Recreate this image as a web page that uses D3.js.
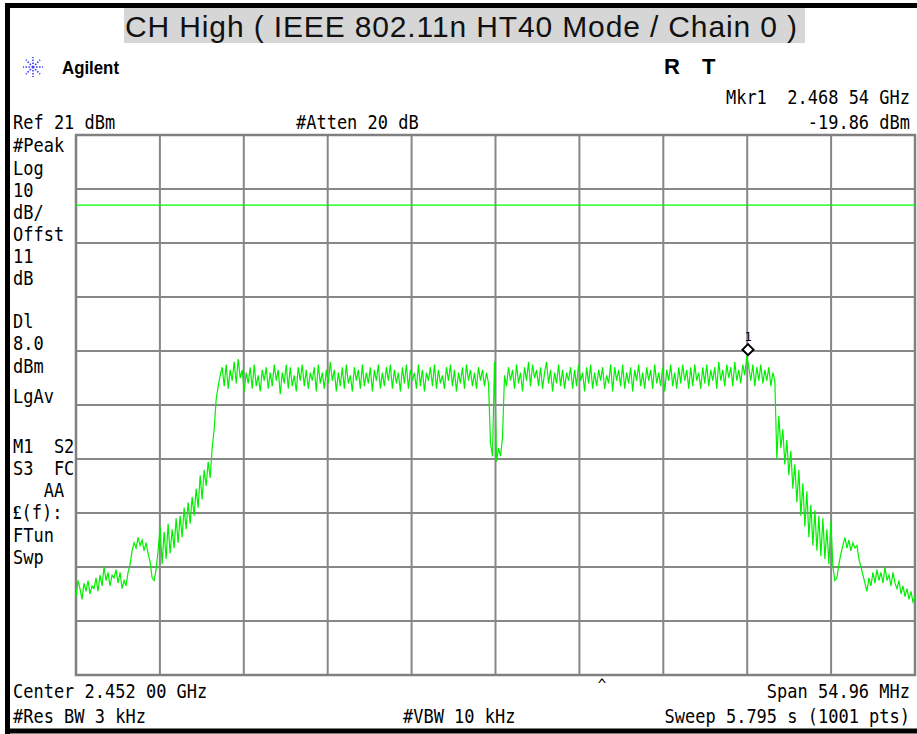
<!DOCTYPE html>
<html>
<head>
<meta charset="utf-8">
<script src="https://cdn.jsdelivr.net/npm/d3@7"></script>
<style>
  body { margin: 0; background: #fff; }
  svg text { white-space: pre; }
</style>
</head>
<body>
<div id="divChart"></div>
<script>
// analyzer settings
var titleText = 'CH High ( IEEE 802.11n HT40 Mode / Chain 0 )'
var centerGHz = 2.452
var spanMHz = 54.96
var refLevel = 21
var dbPerDiv = 10
var displayLine = 8.0
var markerFreq = [2.46854]
var markerDbm = [-19.86]

// trace amplitude in dBm, left to right across the span (evenly spaced)
var traceDbm = [
  // low skirt
  -64.5, -61.5, -63, -65, -62, -63.5, -61.5, -64, -62.5, -63,
  -61, -63.5, -60.5, -62.5, -59, -61.5, -60, -62.5, -60.5, -61,
  -59.5, -62, -60, -63, -61.5, -62.5, -60,
  -58.5, -56, -54.5, -55.5, -53.5, -55, -54, -56, -54.5, -56.5,
  -58, -61, -61.5, -59.5,
  // rising edge
  -56, -51.5, -58.5, -52.5, -57.5, -51, -56.5, -52, -55.5, -50,
  -54.5, -49.5, -53.5, -48, -52, -47, -51, -46, -49.5, -44.5,
  -48, -42, -46.5, -41, -44, -39.5, -42.5, -37, -33.5,
  -28, -25.5, -23.5,
  // channel, lower half
  -22, -25.5, -21.5, -26, -22.5, -24.5, -21, -25, -20.5, -24,
  -22.5, -26.5, -23, -25, -22, -26, -21.5, -25.5, -23.5, -26.5,
  -22.5, -24.5, -22, -26, -23, -25.5, -21.5, -24.5, -22.5, -27,
  -23, -25, -21.5, -26, -22, -25.5, -23.5, -26.5, -22, -24.5,
  -21.5, -25.5, -22.5, -26, -23, -24.5, -22, -26.5, -21.5, -25,
  -23, -26, -22.5, -25, -21, -24.5, -22.5, -26.5, -23, -25.5,
  -22, -26, -21.5, -25, -23.5, -26.5, -22, -24.5, -22.5, -26,
  -21.5, -25.5, -23, -25, -22, -26.5, -22.5, -24.5, -21.5, -26,
  -23, -25.5, -22, -24.5, -21.5, -26, -22.5, -25, -23, -26.5,
  -22, -25, -21.5, -26, -22.5, -24.5, -23, -26, -21.5, -25.5,
  -22.5, -26.5, -23, -24.5, -22, -25.5, -21.5, -26, -22.5, -25,
  -23.5, -26, -22, -24.5, -21.5, -25.5, -22.5, -26.5, -23, -25,
  -22, -26, -21.5, -24.5, -22.5, -25.5, -23, -26, -22, -24.5,
  -22.5, -25.5, -23,
  // centre notch
  -25, -36, -38.5, -21, -39.5, -37, -38.5, -35, -23.5,
  // channel, upper half
  -25.5, -22, -24.5, -22.5, -26, -21.5, -25, -23, -26.5, -22,
  -24.5, -21, -25.5, -21.5, -24, -22.5, -25.5, -22, -26, -23,
  -21, -25, -22.5, -26.5, -23, -25, -21.5, -25.5, -22.5, -26,
  -23, -24.5, -22, -26, -22.5, -25.5, -21.5, -24.5, -23, -26.5,
  -22, -25, -21.5, -26, -23, -25.5, -22.5, -24.5, -22, -26,
  -23.5, -25, -21.5, -26.5, -22, -24.5, -22.5, -25.5, -21.5, -26,
  -23, -25, -22, -26.5, -22.5, -24.5, -21.5, -25.5, -23, -26,
  -22, -24.5, -22.5, -26, -21.5, -25, -23, -25.5, -22, -26.5,
  -22.5, -24.5, -21.5, -25.5, -23, -26, -22, -25, -21.5, -24.5,
  -22.5, -26, -22, -25.5, -21.5, -24.5, -23, -26, -22, -25,
  -21.5, -25.5, -22.5, -24.5, -22, -26, -21, -24.5, -22.5, -25.5,
  -21.5, -24, -22, -25.5, -21, -24.5, -22.5, -25, -21.5, -23.5,
  -19.9, -22, -24.5, -21.5, -25.5, -22, -24.5, -21.5, -25, -22.5,
  -24.5, -22, -25.5, -23,
  // falling edge
  -24.5, -39, -31, -37, -33.5, -40, -35.5, -42, -37.5, -44.5,
  -40, -47, -41, -49.5, -43.5, -51.5, -45, -53.5, -47.5, -55,
  -48.5, -56, -49.5, -57, -50, -57.5, -52, -58.5, -50.5, -59,
  -61.5,
  // high skirt
  -61, -58.5, -56.5, -55, -53.5, -55.5, -54, -56, -54.5, -55.5,
  -55, -57.5, -59, -60.5, -62, -63.5, -61, -62.5, -60, -62,
  -59.5, -61.5, -60, -62, -59, -61.5, -60.5, -62.5, -60, -62,
  -63, -61.5, -64, -62.5, -64.5, -63, -65, -63.5, -65.5, -64.5
]

// annotation texts of the analyzer screen
var leftLabels = ['#Peak', 'Log', '10', 'dB/', 'Offst', '11', 'dB', 'Dl', '8.0', 'dBm', 'LgAv',
  'M1  S2', 'S3  FC', '   AA', '(f):', 'FTun', 'Swp']
var leftLabelY = [152, 175, 197, 219, 241, 263, 285, 328, 350, 373, 403, 453, 475, 497, 519, 542, 564]
var headerLeft = ['Ref 21 dBm', '#Atten 20 dB']
var headerRight = ['Mkr1  2.468 54 GHz', '-19.86 dBm']
var footerLeft = ['Center 2.452 00 GHz', '#Res BW 3 kHz', '#VBW 10 kHz']
var footerRight = ['Span 54.96 MHz', 'Sweep 5.795 s (1001 pts)']

var chart = {}

function initChart () {
  chart.width = 917
  chart.height = 734
  chart.left = 76
  chart.right = 915
  chart.top = 135
  chart.bottom = 675
  chart.font = "'DejaVu Sans Mono', 'Liberation Mono', monospace"

  chart.fStart = centerGHz - spanMHz / 2000
  chart.fStop = centerGHz + spanMHz / 2000
  chart.xScale = d3.scaleLinear().domain([chart.fStart, chart.fStop]).range([chart.left, chart.right])
  chart.yScale = d3.scaleLinear().domain([refLevel - 10 * dbPerDiv, refLevel]).range([chart.bottom, chart.top])

  chart.svg = d3.select('#divChart')
    .append('svg')
    .attr('width', chart.width)
    .attr('height', chart.height)
}

function drawFrame () {
  var svg = chart.svg
  // black outer frame of the screenshot (right side is cut off in the shot)
  var frame = [[5, 5.5, chart.width, 5.5], [7.5, 3, 7.5, 734], [5, 731, chart.width, 731]]
  svg.selectAll('.frameLine')
    .data(frame)
    .enter()
    .append('line')
    .attr('class', 'frameLine')
    .attr('x1', function (d) { return d[0] })
    .attr('y1', function (d) { return d[1] })
    .attr('x2', function (d) { return d[2] })
    .attr('y2', function (d) { return d[3] })
    .attr('stroke', '#000')
    .attr('stroke-width', 5)

  // title with grey band
  svg.append('rect')
    .attr('x', 124).attr('y', 8).attr('width', 681).attr('height', 35)
    .attr('fill', '#d6d6d6')
  svg.append('text')
    .attr('x', 461).attr('y', 37)
    .attr('text-anchor', 'middle')
    .attr('font-family', "'Liberation Sans', Arial, sans-serif")
    .attr('font-size', 30)
    .attr('textLength', 672)
    .attr('fill', '#111')
    .text(titleText)

  // agilent logo: dotted starburst
  var logo = svg.append('g').attr('transform', 'translate(33,67)')
  d3.range(8).forEach(function (k) {
    var a = k * Math.PI / 4
    logo.append('line')
      .attr('x1', Math.cos(a) * 3).attr('y1', Math.sin(a) * 3)
      .attr('x2', Math.cos(a) * 10).attr('y2', Math.sin(a) * 10)
      .attr('stroke', '#3b3bf5').attr('stroke-width', 1.6)
      .attr('stroke-dasharray', '1.6,1.4')
  })
  logo.append('circle').attr('r', 1.6).attr('fill', '#3b3bf5')
  svg.append('text')
    .attr('x', 62).attr('y', 74)
    .attr('font-family', "'Liberation Sans', Arial, sans-serif")
    .attr('font-weight', 'bold')
    .attr('font-size', 19)
    .attr('textLength', 57)
    .attr('lengthAdjust', 'spacingAndGlyphs')
    .text('Agilent')

  // R T status letters
  svg.selectAll('.rtLabel')
    .data(['R', 'T'])
    .enter()
    .append('text')
    .attr('class', 'rtLabel')
    .attr('x', function (d, i) { return 664 + i * 38 })
    .attr('y', 74)
    .attr('font-family', "'Liberation Sans', Arial, sans-serif")
    .attr('font-weight', 'bold')
    .attr('font-size', 22)
    .text(function (d) { return d })
}

function drawTexts () {
  var svg = chart.svg
  // mono text, stretched a little in height like the analyzer's bitmap font
  function addText (str, x, y, anchor) {
    return svg.append('text')
      .attr('transform', 'translate(' + x + ',' + y + ') scale(1,1.12)')
      .attr('text-anchor', anchor || 'start')
      .attr('font-family', chart.font)
      .attr('font-size', 17)
      .attr('fill', '#000')
      .text(str)
  }
  addText(headerLeft[0], 13, 129)
  addText(headerLeft[1], 296, 129)
  addText(headerRight[0], 910, 104, 'end')
  addText(headerRight[1], 910, 129, 'end')

  leftLabels.forEach(function (d, i) {
    if (d === '(f):') {
      var t = addText('', 13, leftLabelY[i])
      t.append('tspan').attr('font-weight', 'bold').attr('font-family', "'Liberation Serif', serif").text('\u00a3')
      t.append('tspan').text(d)
    } else {
      addText(d, 13, leftLabelY[i])
    }
  })

  addText(footerLeft[0], 13, 698)
  addText(footerLeft[1], 13, 723)
  addText(footerLeft[2], 403, 723)
  addText(footerRight[0], 910, 698, 'end')
  addText(footerRight[1], 910, 723, 'end')
  addText('^', 602, 690, 'middle').attr('font-size', 14)
}

function drawGrid () {
  var g = chart.svg.append('g').attr('id', 'g-grid')
  var fTicks = d3.range(11).map(function (k) { return chart.fStart + k * (chart.fStop - chart.fStart) / 10 })
  var yTicks = d3.range(11).map(function (k) { return refLevel - k * dbPerDiv })

  g.selectAll('.vLine')
    .data(fTicks)
    .enter()
    .append('line')
    .attr('class', 'vLine')
    .attr('x1', function (d) { return chart.xScale(d) })
    .attr('x2', function (d) { return chart.xScale(d) })
    .attr('y1', chart.top)
    .attr('y2', chart.bottom)
    .attr('stroke', '#878787')
    .attr('stroke-width', 2)

  g.selectAll('.hLine')
    .data(yTicks)
    .enter()
    .append('line')
    .attr('class', 'hLine')
    .attr('x1', chart.left)
    .attr('x2', chart.right)
    .attr('y1', function (d) { return chart.yScale(d) })
    .attr('y2', function (d) { return chart.yScale(d) })
    .attr('stroke', '#878787')
    .attr('stroke-width', 2)

  g.append('rect')
    .attr('x', chart.left).attr('y', chart.top)
    .attr('width', chart.right - chart.left).attr('height', chart.bottom - chart.top)
    .attr('fill', 'none').attr('stroke', '#808080').attr('stroke-width', 2.5)
}

function drawTrace () {
  var svg = chart.svg
  var n = traceDbm.length
  var step = (chart.fStop - chart.fStart) / (n - 1)

  // display line
  svg.append('line')
    .attr('x1', chart.left).attr('x2', chart.right)
    .attr('y1', chart.yScale(displayLine)).attr('y2', chart.yScale(displayLine))
    .attr('stroke', '#00ff00').attr('stroke-width', 1.3)

  var line = d3.line()
    .x(function (d, i) { return chart.xScale(chart.fStart + i * step) })
    .y(function (d) { return chart.yScale(d) })

  svg.append('path')
    .datum(traceDbm)
    .attr('d', line)
    .attr('fill', 'none')
    .attr('stroke', '#00f000')
    .attr('stroke-width', 1.2)

  // marker 1: diamond sitting on the trace point
  var mk = svg.selectAll('.marker')
    .data(markerFreq)
    .enter()
    .append('g')
    .attr('class', 'marker')
    .attr('transform', function (d, i) {
      return 'translate(' + chart.xScale(d) + ',' + (chart.yScale(markerDbm[i]) - 6) + ')'
    })
  mk.append('path')
    .attr('d', 'M0,-5.5L5.5,0L0,5.5L-5.5,0Z')
    .attr('fill', '#fff')
    .attr('stroke', '#000')
    .attr('stroke-width', 2)
  mk.append('text')
    .attr('y', -9)
    .attr('text-anchor', 'middle')
    .attr('font-family', chart.font)
    .attr('font-size', 12)
    .text(function (d, i) { return i + 1 })
}

initChart()
drawFrame()
drawGrid()
drawTrace()
drawTexts()
</script>
</body>
</html>
